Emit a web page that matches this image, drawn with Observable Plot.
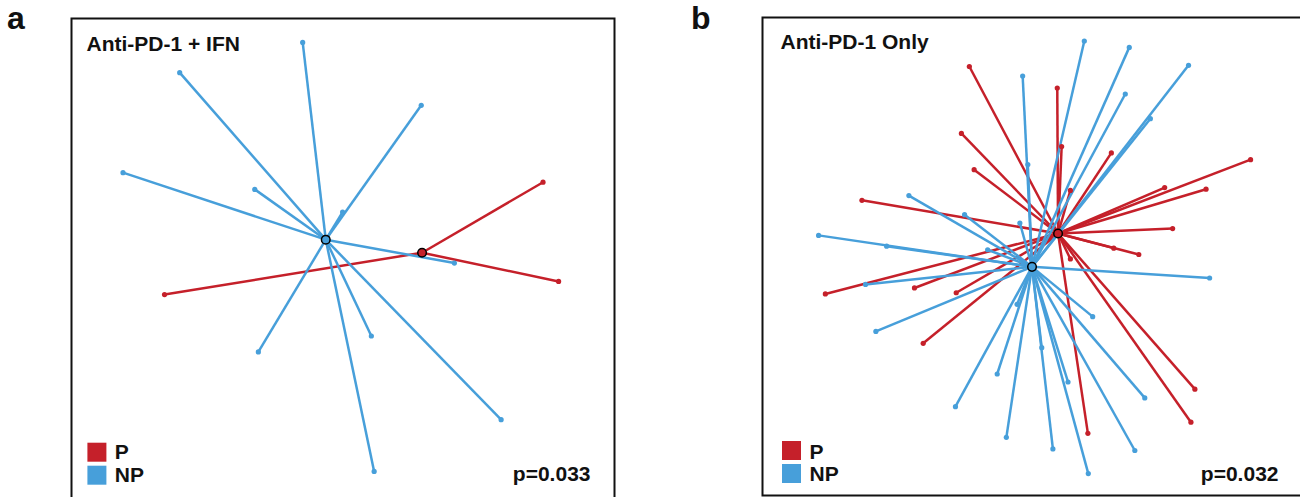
<!DOCTYPE html>
<html>
<head>
<meta charset="utf-8">
<script src="https://cdn.jsdelivr.net/npm/d3@7"></script>
<script src="https://cdn.jsdelivr.net/npm/@observablehq/plot@0.6"></script>
<style>
  body { margin: 0; background: #fff; font-family: "Liberation Sans", Arial, sans-serif; }
  #wrap { position: relative; width: 1300px; height: 497px; overflow: hidden; background: #fff; }
  .letter { position: absolute; top: 0; font-weight: bold; font-size: 32px; line-height: normal; color: #111; }
  .plot { position: absolute; }
</style>
</head>
<body>
<div id="wrap"></div>
<script>
// ---- categories / labels ----
const groups = ["P", "NP"];
const groupColors = ["#c5202a", "#479fda"];
const panelLetters = ["a", "b"];
const panelTitles = ["Anti-PD-1 + IFN", "Anti-PD-1 Only"];
const pValues = ["p=0.033", "p=0.032"];

// ---- panel a: ordination coordinates per sample ----
const aP_pc1 = [0.501, 0.540, -0.447];
const aP_pc2 = [0.189, -0.060, -0.093];
const aNP_pc1 = [-0.101, -0.409, -0.551, -0.221, -0.001, 0.196, 0.279, -0.212, 0.071, 0.078, 0.396];
const aNP_pc2 = [0.540, 0.464, 0.213, 0.171, 0.114, 0.382, -0.014, -0.237, -0.197, -0.537, -0.407];

// ---- panel b: ordination coordinates per sample ----
const bP_pc1 = [-0.160, 0.061, -0.180, 0.072, 0.197, 0.547, -0.148, -0.430, 0.331, 0.435, 0.094,
                0.351, 0.203, 0.266, 0.094, -0.522, -0.298, -0.193, -0.276, 0.407, 0.397, 0.138];
const bP_pc2 = [0.477, 0.423, 0.309, 0.276, 0.260, 0.243, 0.218, 0.141, 0.173, 0.169, 0.166,
                0.070, 0.021, 0.005, -0.006, -0.094, -0.079, -0.091, -0.218, -0.333, -0.416, -0.444];
const bNP_pc1 = [0.129, 0.242, 0.391, -0.026, 0.232, 0.295, -0.013, -0.312, -0.172, -0.033, -0.539,
                 -0.368, -0.114, -0.421, 0.444, -0.395, -0.040, 0.150, 0.022, -0.090, 0.088, 0.281,
                 -0.195, -0.067, 0.050, 0.256, 0.139];
const bNP_pc2 = [0.541, 0.525, 0.480, 0.453, 0.408, 0.346, 0.231, 0.153, 0.105, 0.084, 0.053,
                 0.026, 0.017, -0.070, -0.054, -0.188, -0.120, -0.151, -0.229, -0.295, -0.315, -0.355,
                 -0.377, -0.454, -0.483, -0.487, -0.545];

const panels = [
  { data: { P: [aP_pc1, aP_pc2], NP: [aNP_pc1, aNP_pc2] },
    left: 71, top: 18, w: 543, h: 480, xDomain: [-0.68, 0.68], yDomain: [-0.605, 0.6],
    letterX: 7, titleDx: 15, titleDy: 32.5, pDx: -24, pDy: -17.5,
    legSqDx: 25.4, legSqDy: [-46.3, -23.3], legTxDx: 43.3, legTxDy: [-40, -17] },
  { data: { P: [bP_pc1, bP_pc2], NP: [bNP_pc1, bNP_pc2] },
    left: 762, top: 17, w: 541, h: 478, xDomain: [-0.68, 0.68], yDomain: [-0.6, 0.6],
    letterX: 691, titleDx: 18, titleDy: 31.3, pDx: -25, pDy: -15,
    legSqDx: 29, legSqDy: [-45, -22], legTxDx: 47, legTxDy: [-37, -14.3] }
];

const wrap = document.getElementById("wrap");
const m = 4;
const font = "Liberation Sans, Arial, sans-serif";

panels.forEach((cfg, pi) => {
  const rows = [];
  const cents = [];
  groups.forEach(g => {
    const [xs, ys] = cfg.data[g];
    const cx = d3.mean(xs), cy = d3.mean(ys);
    cents.push({ group: g, cx, cy });
    xs.forEach((x, i) => rows.push({ group: g, x, y: ys[i], cx, cy }));
  });

  const marks = [
    Plot.link(rows, { x1: "cx", y1: "cy", x2: "x", y2: "y", stroke: "group", strokeWidth: 2.5 }),
    Plot.dot(rows, { x: "x", y: "y", fill: "group", r: 2.6 }),
    Plot.dot(cents, { x: "cx", y: "cy", fill: "group", stroke: "#000", strokeWidth: 1.5, r: 4.3 }),
    Plot.frame({ stroke: "#111", strokeWidth: 2 }),
    Plot.text([panelTitles[pi]], { text: d => d, frameAnchor: "top-left", textAnchor: "start", lineAnchor: "bottom",
      dx: cfg.titleDx, dy: cfg.titleDy, fontSize: 21, fontWeight: "bold", fill: "#111" }),
    Plot.text([pValues[pi]], { text: d => d, frameAnchor: "bottom-right", textAnchor: "end", lineAnchor: "bottom",
      dx: cfg.pDx, dy: cfg.pDy, fontSize: 21, fontWeight: "bold", fill: "#111" })
  ];
  groups.forEach((g, gi) => {
    marks.push(Plot.dot([g], { frameAnchor: "bottom-left", dx: cfg.legSqDx, dy: cfg.legSqDy[gi],
      symbol: "square", r: 19 / Math.sqrt(Math.PI), fill: groupColors[gi] }));
    marks.push(Plot.text([g], { text: d => d, frameAnchor: "bottom-left", textAnchor: "start", lineAnchor: "bottom",
      dx: cfg.legTxDx, dy: cfg.legTxDy[gi], fontSize: 21, fontWeight: "bold", fill: "#111" }));
  });

  const svg = Plot.plot({
    width: cfg.w + 2 * m,
    height: cfg.h + 2 * m,
    margin: m,
    x: { domain: cfg.xDomain, axis: null },
    y: { domain: cfg.yDomain, axis: null },
    color: { domain: groups, range: groupColors },
    style: { fontFamily: font, background: "transparent", overflow: "visible" },
    marks
  });
  svg.classList.add("plot");
  svg.style.left = (cfg.left - m) + "px";
  svg.style.top = (cfg.top - m) + "px";
  wrap.appendChild(svg);

  const letter = document.createElement("div");
  letter.className = "letter";
  letter.style.left = cfg.letterX + "px";
  letter.textContent = panelLetters[pi];
  wrap.appendChild(letter);
});
</script>
</body>
</html>
